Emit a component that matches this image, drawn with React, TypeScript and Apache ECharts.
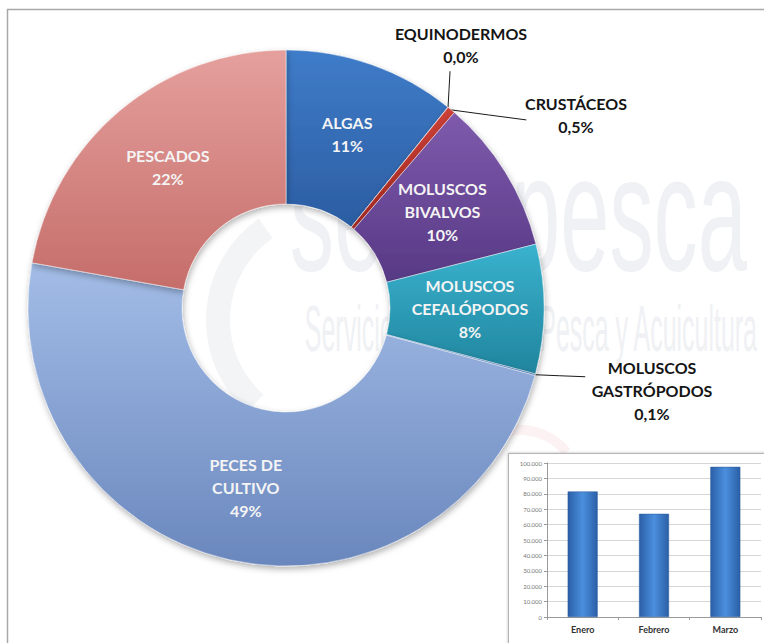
import React, { useEffect, useRef } from 'react';
import * as echarts from 'echarts';

// ---- data ----
const categories = [
  'ALGAS',
  'EQUINODERMOS',
  'CRUSTÁCEOS',
  'MOLUSCOS\nBIVALVOS',
  'MOLUSCOS\nCEFALÓPODOS',
  'MOLUSCOS\nGASTRÓPODOS',
  'PECES DE\nCULTIVO',
  'PESCADOS',
];
const shares = [10.8, 0.02, 0.5, 9.7, 8.1, 0.1, 48.6, 22.2];

const months = ['Enero', 'Febrero', 'Marzo'];
const monthlyValues = [81500, 67000, 97500];
const yMin = 0;
const yMax = 100000;
const yStep = 10000;

// ---- styles ----
const sliceColors: [string, string][] = [
  ['#3f7cc9', '#2b5da2'],
  ['#a02c2c', '#7d1c1c'],
  ['#cc4037', '#a22820'],
  ['#7f5aac', '#573985'],
  ['#39b2ce', '#21859e'],
  ['#5b8fd0', '#3f6fb0'],
  ['#a3bde7', '#6a87bd'],
  ['#e5a09d', '#c56d6a'],
];

const FONT = 'Lato, "Open Sans", "Noto Sans", sans-serif';
const WM_FONT = '"Liberation Sans", Arial, sans-serif';
const WM_COLOR = '#eff1f4';

function fmtPercent(p: number): string {
  if (p < 1) return p.toFixed(1).replace('.', ',') + '%';
  return Math.round(p) + '%';
}

function fmtThousands(v: number): string {
  return String(v).replace(/\B(?=(\d{3})+(?!\d))/g, '.');
}

export default function App() {
  const ref = useRef<HTMLDivElement>(null);

  useEffect(() => {
    if (!ref.current) return;
    const chart = echarts.init(ref.current, undefined, { renderer: 'svg' });

    const callout: Record<number, { x: number; y: number; d1: number[]; d2: number[] }> = {
      1: { x: 461, y: 45, d1: [1, -18], d2: [2, -36] },
      2: { x: 576, y: 115, d1: [37, 5], d2: [75, 10] },
      5: { x: 652, y: 390, d1: [24, 1], d2: [50, 2] },
    };

    const pieData = categories.map((name, i) => {
      const small = shares[i] < 1;
      return {
        name,
        value: shares[i],
        itemStyle: {
          color: new echarts.graphic.LinearGradient(0, 0, 0, 1, [
            { offset: 0, color: sliceColors[i][0] },
            { offset: 1, color: sliceColors[i][1] },
          ]),
        },
        label: small ? { position: 'outside', color: '#151515' } : { position: 'inside' },
        labelLine: small
          ? { show: true, length: 12, length2: 12, lineStyle: { color: '#1a1a1a', width: 1 } }
          : { show: false },
      };
    });

    const option: any = {
      animation: false,
      backgroundColor: '#ffffff',
      graphic: [
        {
          type: 'rect',
          shape: { x: 7.5, y: 9.5, width: 800, height: 700 },
          style: { fill: 'none', stroke: '#a8a8a8', lineWidth: 1.5 },
          silent: true,
        },
        {
          type: 'text',
          x: 747,
          y: 213,
          scaleX: 0.536,
          silent: true,
          style: {
            text: 'sernapesca',
            align: 'right',
            verticalAlign: 'middle',
            fontSize: 165,
            fontFamily: WM_FONT,
            fill: WM_COLOR,
          },
        },
        {
          type: 'text',
          x: 757,
          y: 329,
          scaleX: 0.39,
          silent: true,
          style: {
            text: 'Servicio Nacional de Pesca y Acuicultura',
            align: 'right',
            verticalAlign: 'middle',
            fontSize: 64,
            fontFamily: WM_FONT,
            fill: WM_COLOR,
          },
        },
        {
          type: 'arc',
          silent: true,
          shape: { cx: 330, cy: 320, r: 112, startAngle: 2.3, endAngle: 4.1 },
          style: { stroke: '#f3f4f6', lineWidth: 24, fill: 'none' },
        },
        {
          type: 'arc',
          silent: true,
          shape: { cx: 520, cy: 490, r: 60, startAngle: 3.5, endAngle: 5.6 },
          style: { stroke: '#fcf2f3', lineWidth: 10, fill: 'none' },
        },
        {
          type: 'rect',
          silent: true,
          shape: { x: 508.5, y: 453.5, width: 270, height: 200 },
          style: {
            fill: '#ffffff',
            stroke: '#b4b4b4',
            lineWidth: 1,
            shadowBlur: 3,
            shadowColor: 'rgba(0,0,0,0.25)',
          },
        },
      ],
      grid: { left: 547, top: 463, right: 3, bottom: 26, containLabel: false },
      xAxis: {
        type: 'category',
        data: months,
        axisLine: { lineStyle: { color: '#9a9a9a' } },
        axisTick: { show: true, length: 3, lineStyle: { color: '#9a9a9a' } },
        axisLabel: { color: '#333', fontSize: 9, fontWeight: 'bold', fontFamily: FONT, margin: 8 },
      },
      yAxis: {
        type: 'value',
        min: yMin,
        max: yMax,
        interval: yStep,
        axisLine: { show: true, lineStyle: { color: '#9a9a9a' } },
        axisTick: { show: true, length: 3, lineStyle: { color: '#9a9a9a' } },
        axisLabel: {
          color: '#777',
          fontSize: 6,
          fontFamily: FONT,
          margin: 5,
          formatter: (v: number) => fmtThousands(v),
        },
        splitLine: { lineStyle: { color: '#d6d6d6' } },
      },
      series: [
        {
          type: 'pie',
          center: [286, 308],
          radius: [104, 258],
          startAngle: 90,
          clockwise: true,
          avoidLabelOverlap: false,
          minAngle: 0,
          itemStyle: {
            borderColor: 'rgba(255,255,255,0.45)',
            borderWidth: 1,
            shadowBlur: 6,
            shadowOffsetX: 1,
            shadowOffsetY: 3,
            shadowColor: 'rgba(0,0,0,0.3)',
          },
          label: {
            formatter: (p: any) => `${p.name}\n${fmtPercent(p.percent)}`,
            color: '#f4f4f4',
            fontSize: 16,
            fontWeight: 'bold',
            fontFamily: FONT,
            lineHeight: 23,
            align: 'center',
          },
          labelLayout: (p: any) => {
            const c = callout[p.dataIndex];
            if (!c) return {};
            const p0 = p.labelLinePoints && p.labelLinePoints[0] ? p.labelLinePoints[0] : [0, 0];
            return {
              x: c.x,
              y: c.y,
              align: 'center',
              verticalAlign: 'middle',
              labelLinePoints: [
                [p0[0], p0[1]],
                [p0[0] + c.d1[0], p0[1] + c.d1[1]],
                [p0[0] + c.d2[0], p0[1] + c.d2[1]],
              ],
            };
          },
          data: pieData,
        },
        {
          type: 'bar',
          data: monthlyValues,
          barWidth: '42%',
          itemStyle: {
            color: new echarts.graphic.LinearGradient(0, 0, 1, 0, [
              { offset: 0, color: '#2b5fa7' },
              { offset: 0.5, color: '#4b8fde' },
              { offset: 1, color: '#2b5fa7' },
            ]),
            borderColor: '#2a5a9c',
            borderWidth: 0.5,
          },
        },
      ],
    };

    chart.setOption(option);
    return () => chart.dispose();
  }, []);

  return (
    <div ref={ref} style={{ position: 'absolute', left: 0, top: 0, width: 764, height: 643 }} />
  );
}
